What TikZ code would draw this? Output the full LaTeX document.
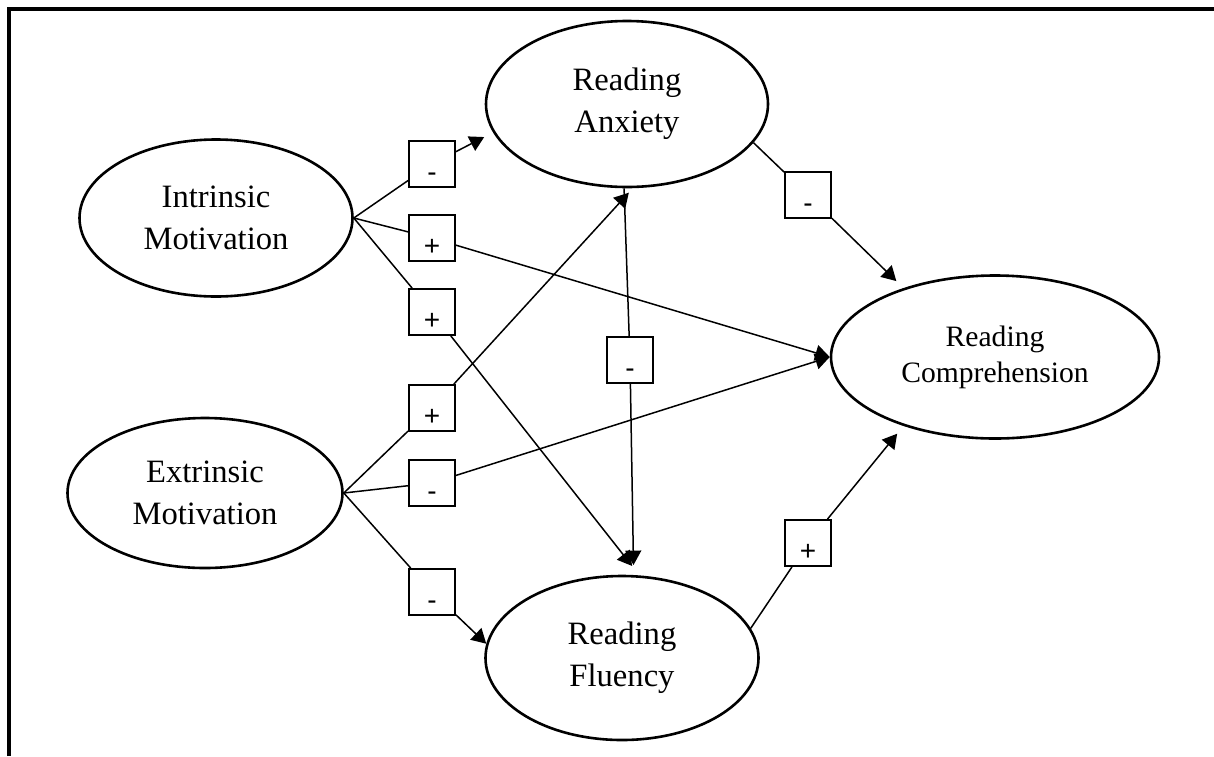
\documentclass[tikz,border=0pt]{standalone}
\usepackage{fontspec}
\setmainfont{Liberation Serif}
\setsansfont{Liberation Sans}
\usetikzlibrary{arrows.meta, shapes.geometric}

\begin{document}
\begin{tikzpicture}[
    x=0.5pt, y=-0.5pt, % one unit = one pixel of the sketch, y down
    latent/.style={
        ellipse,
        draw,
        line width=1.3pt,
        align=center,
        inner sep=0pt,
        font=\fontsize{16.3}{21}\selectfont
    },
    sign/.style={
        rectangle,
        draw,
        fill=white,
        line width=0.9pt,
        minimum size=23pt,
        inner sep=0pt,
        text height=17pt,
        text depth=0pt,
        font=\fontsize{14}{16}\sffamily
    },
    arrow/.style={line width=0.75pt, -{Triangle[length=7.2pt, width=8pt]}},
    frame/.style={line width=1.75pt}
]
\useasboundingbox (0,0) rectangle (1214,756);

% ========== frame (top and left edge only) ==========
\draw[frame] (9,756) -- (9,9) -- (1214,9);

% ========== latent variables ==========
\node[latent, minimum width=136.5pt, minimum height=78.5pt] (intr) at (216,218) {Intrinsic\\Motivation};
\node[latent, minimum width=137.5pt, minimum height=75pt] (extr) at (205,493) {Extrinsic\\Motivation};
\node[latent, minimum width=141pt, minimum height=83pt] (anx) at (627,104) {Reading\\Anxiety};
\node[latent, minimum width=136.5pt, minimum height=82pt] (flu) at (622,658) {Reading\\Fluency};
\node[latent, minimum width=164pt, minimum height=81.5pt,
      font=\fontsize{14.8}{18}\selectfont] (comp) at (995,357) {Reading\\Comprehension};

% ========== signs of the paths ==========
\node[sign] (s1) at (432,164) {-};
\node[sign] (s2) at (432,238) {+};
\node[sign] (s3) at (432,312) {+};
\node[sign] (s4) at (432,408) {+};
\node[sign] (s5) at (432,483) {-};
\node[sign] (s6) at (432,592) {-};
\node[sign] (s7) at (630,360) {-};
\node[sign] (s8) at (808,195) {-};
\node[sign] (s9) at (808,543) {+};

% ========== paths ==========
\draw[arrow, shorten >=5pt] (intr.east) -- (s1) -- (anx.192);
\draw[arrow] (intr.east) -- (s2) -- (comp.west);
\draw[arrow, shorten >=6pt] (intr.east) -- (s3) -- (flu.78);
\draw[arrow, shorten >=3pt] (extr.east) -- (s4) -- (anx.274);
\draw[arrow] (extr.east) -- (s5) -- (comp.west);
\draw[arrow] (extr.east) -- (s6) -- (flu.174);
\draw[arrow, shorten >=5pt] (anx.268) -- (s7) -- (flu.82);
\draw[arrow, shorten >=5pt] (anx.343) -- (s8) -- (comp.143);
\draw[arrow, shorten >=5pt] (flu.13) -- (s9) -- (comp.217);

\end{tikzpicture}
\end{document}
